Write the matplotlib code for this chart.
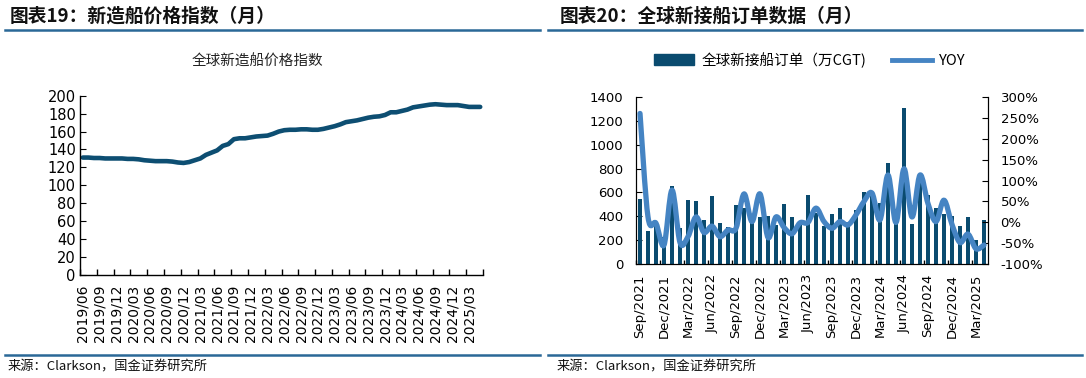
import matplotlib
matplotlib.use('Agg')
import matplotlib.pyplot as plt
import numpy as np
from matplotlib.patches import Patch, PathPatch
from matplotlib.path import Path
from matplotlib.lines import Line2D
from matplotlib.ticker import FuncFormatter

plt.rcParams['font.family'] = ['DejaVu Sans', 'Noto Sans CJK SC']
CJK = ['Noto Sans CJK SC', 'DejaVu Sans']

# ---------------- data ----------------
# Left: global newbuilding price index, monthly 2019/06 .. 2025/05
price_months = [f"{y}/{m:02d}" for y in range(2019, 2026) for m in range(1, 13)]
price_months = price_months[price_months.index("2019/06"):price_months.index("2025/05") + 1]
price_index = [131, 131, 130.5, 130.5, 130, 130, 130, 130, 129.5, 129.5, 129, 128,
               127.5, 127, 127, 127, 126.5, 125.5, 125, 126, 128, 130, 134, 136.5,
               139, 144, 146, 151.5, 152.5, 152.5, 153.5, 154.5, 155, 155.5, 157.5, 160,
               161.5, 162, 162, 162.5, 162.5, 162, 162, 163, 164.5, 166, 168, 170.5,
               171.5, 172.5, 174, 175.5, 176.5, 177, 178.5, 181.5, 181.5, 183, 184.5, 187,
               188, 189, 190, 190.5, 190, 189.5, 189.5, 189.5, 188.5, 187.5, 187.5, 187.5]

# Right: global new orders (10k CGT) and YoY (%), monthly Sep 2021 .. Apr 2025
mon_abbr = ["Jan", "Feb", "Mar", "Apr", "May", "Jun", "Jul", "Aug", "Sep", "Oct", "Nov", "Dec"]
order_months = [f"{mon_abbr[m]}/{y}" for y in range(2021, 2026) for m in range(12)]
order_months = order_months[order_months.index("Sep/2021"):order_months.index("Apr/2025") + 1]
orders = [544, 280, 340, 230, 655, 300, 540, 530, 368, 568, 344, 315,
          492, 469, 390, 395, 405, 330, 505, 394, 350, 580, 430, 316,
          416, 469, 355, 452, 605, 570, 516, 845, 410, 1304, 340, 720,
          580, 469, 420, 405, 316, 394, 205, 366]
yoy = [260, 13, -2, -54, 77, -48, -34, 13, -24, -9, -34, -18,
       -14, 68, 2, 68, -36, 13, -12, -27, -1, 0, 34, 2,
       -14, 2, -6, 18, 50, 70, 6, 113, 0, 128, 13, 113,
       45, 2, 53, -5, -48, -28, -63, -54]

title_left = "图表19：新造船价格指数（月）"
title_right = "图表20：全球新接船订单数据（月）"
sub_left = "全球新造船价格指数"
leg_bar = "全球新接船订单（万CGT)"
leg_line = "YOY"
source = "来源：Clarkson，国金证券研究所"

W, H = 1086, 378
fig = plt.figure(figsize=(W / 100, H / 100), dpi=100)

def fx(px):
    return px / W

def fy(py):
    return 1 - py / H

rule_c = '#2a6897'
# headers + rules
fig.text(fx(10), fy(16), title_left, fontsize=13.5, fontweight='bold', style='italic',
         family=CJK, ha='left', va='center', color='#111111')
fig.text(fx(560), fy(16), title_right, fontsize=13.5, fontweight='bold', style='italic',
         family=CJK, ha='left', va='center', color='#111111')
for x0, x1 in [(5, 540), (548, 1082)]:
    fig.add_artist(Line2D([fx(x0), fx(x1)], [fy(30), fy(30)], color=rule_c, lw=1.8,
                          transform=fig.transFigure))
    fig.add_artist(Line2D([fx(x0), fx(x1)], [fy(355), fy(355)], color=rule_c, lw=1.8,
                          transform=fig.transFigure))
fig.text(fx(8), fy(367), source, fontsize=9.5, family=CJK, ha='left', va='center', color='#111111')
fig.text(fx(557), fy(367), source, fontsize=9.5, family=CJK, ha='left', va='center', color='#111111')

# ---------------- left chart ----------------
ax1 = fig.add_axes([fx(80), fy(275), fx(483) - fx(80), fy(95.7) - fy(275)])
xl = np.arange(len(price_index))
ax1.plot(xl, price_index, color='#0d4e72', lw=3.3, solid_capstyle='round')
ax1.set_xlim(-0.5, len(price_index) - 0.5)
ax1.set_ylim(0, 200)
ax1.set_yticks(range(0, 201, 20))
ax1.set_xticks(xl[::3])
ax1.set_xticklabels(price_months[::3], rotation=90)
ax1.set_xticks(np.arange(-0.5, len(price_index), 3), minor=True)
ax1.tick_params(axis='x', which='major', length=0, pad=7, labelsize=10)
ax1.tick_params(axis='x', which='minor', length=4, direction='in', width=1)
ax1.tick_params(axis='y', direction='in', length=4, pad=3, labelsize=10.5)
for s in ['top', 'right']:
    ax1.spines[s].set_visible(False)
for s in ['left', 'bottom']:
    ax1.spines[s].set_linewidth(1.0)
fig.text(fx(257), fy(62), sub_left, fontsize=10.5, family=CJK, ha='center', va='center',
         color='#222222')

# ---------------- right chart ----------------
ax2 = fig.add_axes([fx(636), fy(264.3), fx(988) - fx(636), fy(96.7) - fy(264.3)])
xr = np.arange(len(orders))
bar_c = '#0a4b6f'
line_c = '#4584c3'
ax2.bar(xr, orders, width=0.6, color=bar_c, zorder=2)
ax2.set_xlim(-0.5, len(orders) - 0.5)
ax2.set_ylim(0, 1400)
ax2.set_yticks(range(0, 1401, 200))
ax2.set_xticks(xr[::3])
ax2.set_xticklabels(order_months[::3], rotation=90)
ax2.set_xticks(np.arange(-0.5, len(orders), 3), minor=True)
ax2.tick_params(axis='x', which='major', length=0, pad=7, labelsize=9.5)
ax2.tick_params(axis='x', which='minor', length=3, direction='in', width=1)
ax2.tick_params(axis='y', direction='in', length=4, pad=9, labelsize=9.5)
ax2.spines['top'].set_visible(False)

ax3 = ax2.twinx()
# smoothed line (Excel-style), drawn as cubic Bezier segments through the data points
pts = np.column_stack([xr, yoy]).astype(float)
ext = np.vstack([pts[0], pts, pts[-1]])
verts = [tuple(pts[0])]
codes = [Path.MOVETO]
for i in range(len(pts) - 1):
    p0, p1, p2, p3 = ext[i], ext[i + 1], ext[i + 2], ext[i + 3]
    c1 = p1 + (p2 - p0) / 6.0
    c2 = p2 - (p3 - p1) / 6.0
    verts += [tuple(c1), tuple(c2), tuple(p2)]
    codes += [Path.CURVE4, Path.CURVE4, Path.CURVE4]
ax3.add_patch(PathPatch(Path(verts, codes), fill=False, edgecolor=line_c, lw=3.8,
                        capstyle='round', joinstyle='round', zorder=3))
ax3.set_xlim(-0.5, len(orders) - 0.5)
ax3.set_ylim(-100, 300)
ax3.set_yticks(range(-100, 301, 50))
ax3.yaxis.set_major_formatter(FuncFormatter(lambda v, p: f"{int(v)}%"))
ax3.tick_params(axis='y', direction='in', length=4, pad=9, labelsize=9.5)
ax3.spines['top'].set_visible(False)

handles = [Patch(facecolor=bar_c, edgecolor=bar_c),
           Line2D([0], [0], color=line_c, lw=3.5)]
fig.legend(handles, [leg_bar, leg_line], loc='center', bbox_to_anchor=(fx(810), fy(60)),
           bbox_transform=fig.transFigure, ncol=2, frameon=False,
           prop={'family': CJK, 'size': 10.5}, handlelength=2.7, handleheight=0.8,
           columnspacing=1.8, handletextpad=0.5)

fig.savefig('out.png', dpi=100)
